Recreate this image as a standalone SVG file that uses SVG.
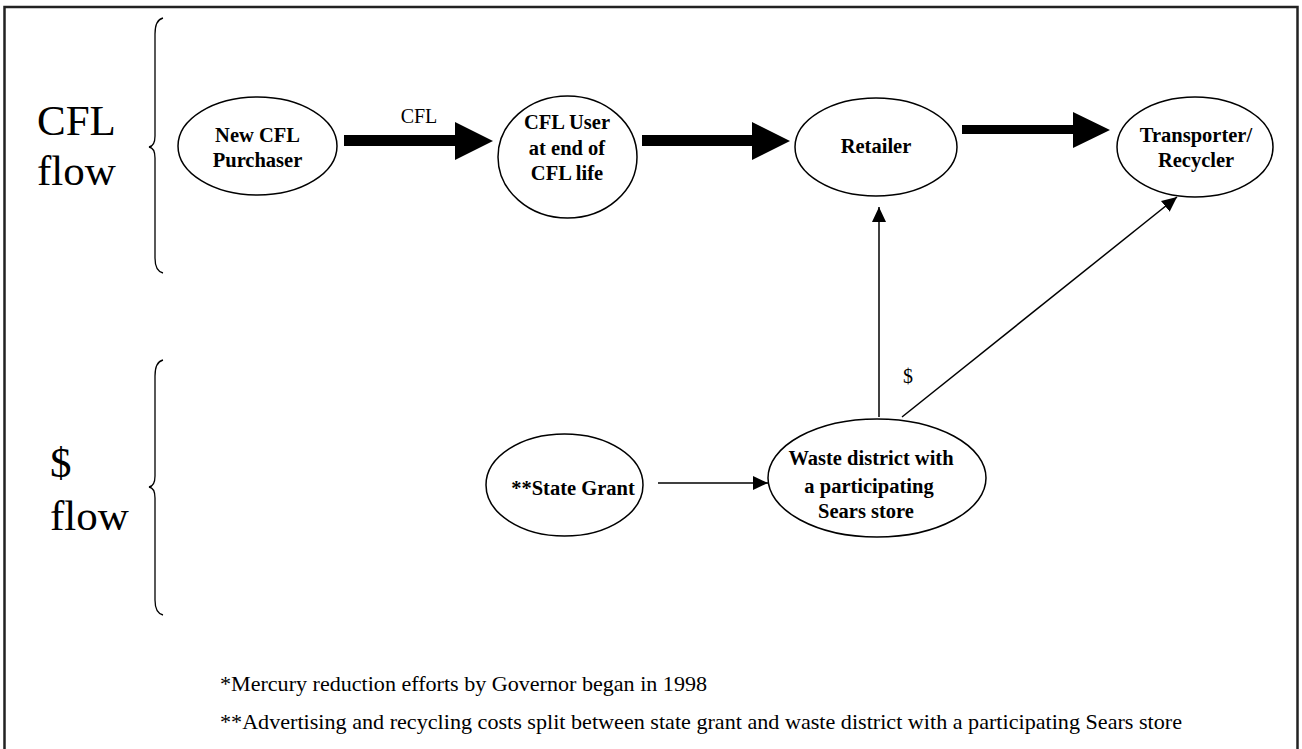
<svg xmlns="http://www.w3.org/2000/svg" width="1302" height="749" viewBox="0 0 1302 749">
  <style>
    .node ellipse { fill: #fff; stroke: #000; stroke-width: 1.5; }
    .node text { font-family: "Liberation Serif", "Times New Roman", serif; font-weight: bold; font-size: 20.5px; fill: #000; text-anchor: middle; }
    .side { font-family: "Liberation Serif", "Times New Roman", serif; font-size: 43px; fill: #000; }
    .lbl { font-family: "Liberation Serif", "Times New Roman", serif; font-size: 20px; fill: #000; }
    .note { font-family: "Liberation Serif", "Times New Roman", serif; font-size: 21px; fill: #000; }
    .brace { fill: none; stroke: #000; stroke-width: 1.3; }
    .thin { fill: none; stroke: #000; stroke-width: 1.5; }
    .thick { fill: #000; stroke: none; }
  </style>
  <defs>
    <marker id="head" markerUnits="userSpaceOnUse" markerWidth="16" markerHeight="14" refX="15" refY="7" orient="auto">
      <path d="M0,0 L15,7 L0,14 Z" fill="#000"/>
    </marker>
  </defs>

  <rect x="0" y="0" width="1302" height="749" fill="#fff"/>
  <!-- page frame, open at the bottom -->
  <rect x="4.5" y="7" width="1293" height="780" fill="none" stroke="#222" stroke-width="2.5"/>

  <!-- side labels and braces -->
  <g id="label-cfl-flow">
    <text class="side" x="37" y="135">CFL</text>
    <text class="side" x="37" y="185">flow</text>
    <path class="brace" d="M163,18 Q155,20 155,34 L155,136 Q155,146 149,147 Q155,148 155,158 L155,258 Q155,271 163,273"/>
  </g>
  <g id="label-money-flow">
    <text class="side" x="50" y="477">$</text>
    <text class="side" x="50" y="530">flow</text>
    <path class="brace" d="M163,360 Q155,362 155,376 L155,476 Q155,486 149,487 Q155,488 155,498 L155,600 Q155,613 163,615"/>
  </g>

  <!-- connectors -->
  <g id="connectors">
    <polygon class="thick" points="344,135 455,135 455,122 493,141 455,160 455,146 344,146"/>
    <polygon class="thick" points="642,135 752,135 752,122 790,141 752,160 752,146 642,146"/>
    <polygon class="thick" points="962,125 1073,125 1073,112 1110,130 1073,148 1073,134 962,134"/>
    <text class="lbl" x="419" y="123" text-anchor="middle" font-size="21">CFL</text>
    <line class="thin" x1="658" y1="483" x2="768" y2="483" marker-end="url(#head)"/>
    <line class="thin" x1="879" y1="417" x2="879" y2="207" marker-end="url(#head)"/>
    <line class="thin" x1="902" y1="417" x2="1177" y2="197" marker-end="url(#head)"/>
    <text class="lbl" x="903" y="383">$</text>
  </g>

  <!-- nodes -->
  <g id="node-purchaser" class="node">
    <ellipse cx="257.5" cy="146" rx="79.5" ry="49"/>
    <text x="257.5" y="142">New CFL</text>
    <text x="257.5" y="167">Purchaser</text>
  </g>
  <g id="node-user" class="node">
    <ellipse cx="567.5" cy="157" rx="69.5" ry="61"/>
    <text x="567" y="129">CFL User</text>
    <text x="567" y="155">at end of</text>
    <text x="567" y="180">CFL life</text>
  </g>
  <g id="node-retailer" class="node">
    <ellipse cx="876" cy="147" rx="81" ry="49"/>
    <text x="876" y="153">Retailer</text>
  </g>
  <g id="node-recycler" class="node">
    <ellipse cx="1195" cy="147" rx="78" ry="50"/>
    <text x="1196" y="142">Transporter/</text>
    <text x="1196" y="167">Recycler</text>
  </g>
  <g id="node-grant" class="node">
    <ellipse cx="564.5" cy="485" rx="78.5" ry="51"/>
    <text x="573" y="495">**State Grant</text>
  </g>
  <g id="node-district" class="node">
    <ellipse cx="877" cy="478" rx="109" ry="59"/>
    <text x="871" y="465" font-size="21.5">Waste district with</text>
    <text x="869" y="493" font-size="21.5">a participating</text>
    <text x="866" y="518" font-size="21.5">Sears store</text>
  </g>

  <!-- footnotes -->
  <g id="footnotes">
    <text class="note" x="220" y="691" textLength="487" lengthAdjust="spacingAndGlyphs">*Mercury reduction efforts by Governor began in 1998</text>
    <text class="note" x="220" y="729" textLength="962" lengthAdjust="spacingAndGlyphs">**Advertising and recycling costs split between state grant and waste district with a participating Sears store</text>
  </g>
</svg>
